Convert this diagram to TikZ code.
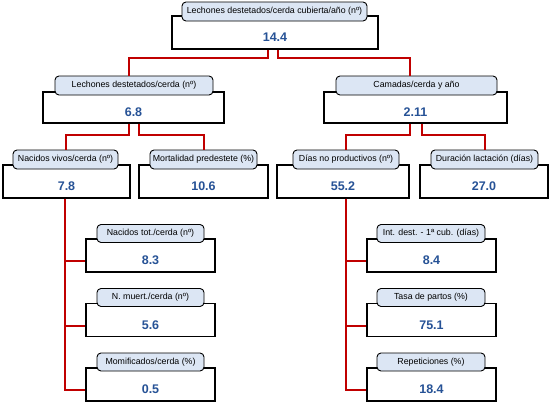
\documentclass[tikz,border=0pt]{standalone}
\usepackage{fontspec}
\setmainfont{Liberation Sans}
\usepackage{tikz}
\usepackage[dvipsnames]{xcolor}
\definecolor{tabfill}{RGB}{220,230,244}
\definecolor{valblue}{RGB}{38,82,150}
\definecolor{wirered}{RGB}{192,0,0}

\begin{document}
\begin{tikzpicture}[
  x=1pt, y=-1pt,
  valbox/.style={draw,line width=1.4pt,fill=white,minimum height=33pt,inner sep=0pt},
  tab/.style={draw,line width=0.9pt,fill=tabfill,rounded corners=4pt,minimum height=19pt,inner sep=0pt,font=\fontsize{8.8}{10}\selectfont},
  ]
  \tikzset{%
    val/.style={
      text=valblue,
      font=\bfseries\fontsize{12.5}{14}\selectfont,
      yshift=-5pt,
    },
    wire/.style={
      draw=wirered,
      line width=2pt,
    },
  }
  \useasboundingbox (0,0) rectangle (550,402);
  %Nodes
  \node[valbox,minimum width=206pt,label={[val]center:14.4}](v0) at (275,32.5){};
  \node[tab,minimum width=185pt](t0) at (274.5,11.5){Lechones destetados/cerda cubierta/año (nº)};
  \node[valbox,minimum width=181pt,minimum height=31pt,label={[val]center:6.8}](v1) at (133.5,107.5){};
  \node[tab,minimum width=158pt](t1) at (134,85.5){Lechones destetados/cerda (nº)};
  \node[valbox,minimum width=183pt,minimum height=31pt,label={[val]center:2.11}](v2) at (415.5,107.5){};
  \node[tab,minimum width=161pt](t2) at (416.5,85.5){Camadas/cerda y año};
  \node[valbox,minimum width=127pt,label={[val]center:7.8}](v3) at (66.5,181.5){};
  \node[tab,minimum width=105pt](t3) at (65.5,159.5){Nacidos vivos/cerda (nº)};
  \node[valbox,minimum width=129pt,label={[val]center:10.6}](v4) at (203.5,181.5){};
  \node[tab,minimum width=107pt](t4) at (203.5,159.5){Mortalidad predestete (\%)};
  \node[valbox,minimum width=132pt,label={[val]center:55.2}](v5) at (343,181.5){};
  \node[tab,minimum width=106pt](t5) at (346,159.5){Días no productivos (nº)};
  \node[valbox,minimum width=128pt,label={[val]center:27.0}](v6) at (484,181.5){};
  \node[tab,minimum width=107pt](t6) at (484.5,159.5){Duración lactación (días)};
  \node[valbox,minimum width=129pt,label={[val]center:8.3}](v7) at (150.5,255.5){};
  \node[tab,minimum width=107pt,minimum height=18pt](t7) at (150.5,233.5){Nacidos tot./cerda (nº)};
  \node[valbox,minimum width=129pt,label={[val]center:5.6}](v8) at (150.5,320){};
  \node[tab,minimum width=107pt,minimum height=18pt](t8) at (150.5,297.5){N. muert./cerda (nº)};
  \node[valbox,minimum width=129pt,label={[val]center:0.5}](v9) at (150.5,384.5){};
  \node[tab,minimum width=107pt,minimum height=18pt](t9) at (150.5,362){Momificados/cerda (\%)};
  \node[valbox,minimum width=129pt,label={[val]center:8.4}](v10) at (431.5,255.5){};
  \node[tab,minimum width=108pt,minimum height=18pt](t10) at (431,233.5){Int. dest. - 1ª cub. (días)};
  \node[valbox,minimum width=129pt,label={[val]center:75.1}](v11) at (431.5,320){};
  \node[tab,minimum width=108pt,minimum height=18pt](t11) at (431,297.5){Tasa de partos (\%)};
  \node[valbox,minimum width=129pt,label={[val]center:18.4}](v12) at (431.5,384.5){};
  \node[tab,minimum width=108pt,minimum height=18pt](t12) at (431,362){Repeticiones (\%)};
  %Lines
  \draw[wire] ([xshift=-7pt]v0.south) -- ++(0,8) -| ([xshift=-5pt]t1.north);
  \draw[wire] ([xshift=3pt]v0.south) -- ++(0,8) -| ([xshift=-6.5pt]t2.north);
  \draw[wire] ([xshift=-4.5pt]v1.south) -- ++(0,11) -| (t3.north);
  \draw[wire] ([xshift=5.5pt]v1.south) -- ++(0,11) -| (t4.north);
  \draw[wire] ([xshift=-5.5pt]v2.south) -- ++(0,11) -| (t5.north);
  \draw[wire] ([xshift=6.5pt]v2.south) -- ++(0,11) -| (t6.north);
  % side branches
  \draw[wire] ([xshift=-1.5pt]v3.south) |- ([yshift=-5.5pt]v7.west);
  \draw[wire] ([xshift=-1.5pt]v3.south) |- ([yshift=-5.5pt]v8.west);
  \draw[wire] ([xshift=-1.5pt]v3.south) |- ([yshift=-5.5pt]v9.west);
  \draw[wire] ([xshift=3pt]v5.south) |- ([yshift=-5.5pt]v10.west);
  \draw[wire] ([xshift=3pt]v5.south) |- ([yshift=-5.5pt]v11.west);
  \draw[wire] ([xshift=3pt]v5.south) |- ([yshift=-5.5pt]v12.west);
\end{tikzpicture}
\end{document}
